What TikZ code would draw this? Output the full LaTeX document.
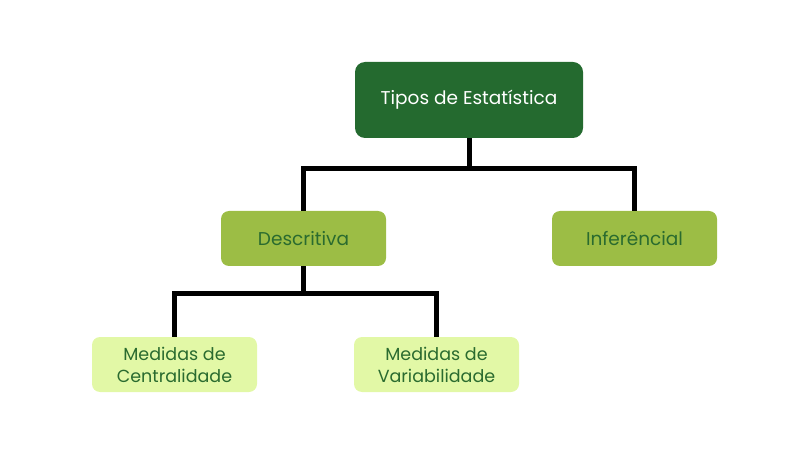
\documentclass[tikz,border=0pt]{standalone}
\usepackage{fontspec}
\setmainfont{Poppins}
\definecolor{darkg}{HTML}{246A2F}
\definecolor{midg}{HTML}{9CBD45}
\definecolor{lightg}{HTML}{E2F8A6}
\definecolor{txtg}{HTML}{2A6B2F}
\tikzset{
  rootbox/.style={fill=darkg, rounded corners=10pt, minimum width=228pt, minimum height=76pt, text=white, font=\fontsize{18.5}{22}\selectfont, align=center, inner sep=0pt},
  midbox/.style={fill=midg, rounded corners=8pt, minimum width=165pt, minimum height=55pt, text=txtg, font=\fontsize{18.5}{22}\selectfont, align=center, inner sep=0pt},
  leafbox/.style={fill=lightg, rounded corners=8pt, minimum width=165pt, minimum height=55pt, text=txtg, font=\fontsize{17.5}{22}\selectfont, align=center, inner sep=0pt},
  conn/.style={line width=5pt, draw=black}
}
\begin{document}
\begin{tikzpicture}[x=1pt,y=-1pt]
\useasboundingbox (0,0) rectangle (808,454);
\node[rootbox] (root) at (469,100) {Tipos de Estatística};
\node[midbox] (desc) at (303.5,238.5) {Descritiva};
\node[midbox] (inf) at (634.5,238.5) {Inferêncial};
\node[leafbox] (cent) at (174.5,364.5) {Medidas de\\Centralidade};
\node[leafbox] (var) at (436.5,364.5) {Medidas de\\Variabilidade};
\coordinate (j1) at (469,169);
\coordinate (j2) at (303.5,293);
\draw[conn] (root.south) -- (j1);
\draw[conn] (desc.north) |- (j1) -| (inf.north);
\draw[conn] (desc.south) -- (j2);
\draw[conn] (cent.north) |- (j2) -| (var.north);
\end{tikzpicture}
\end{document}
